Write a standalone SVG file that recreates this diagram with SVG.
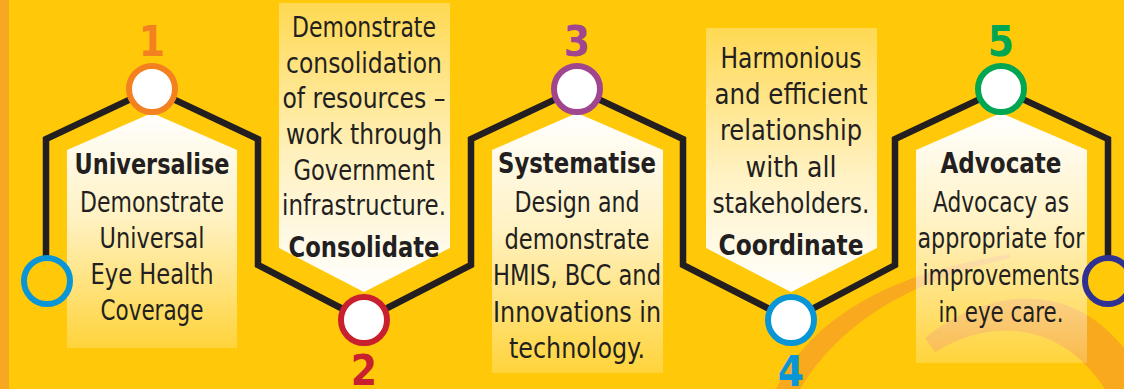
<svg xmlns="http://www.w3.org/2000/svg" width="1124" height="389" viewBox="0 0 1124 389">
<style>
.t{font-family:"Liberation Sans Narrow","DejaVu Sans Condensed","Liberation Sans",sans-serif;font-size:28px;fill:#231F20;text-anchor:middle}
.b{font-weight:bold}
.num{font-family:"Liberation Sans Narrow","DejaVu Sans Condensed","Liberation Sans",sans-serif;font-size:42px;font-weight:bold;text-anchor:middle}
.node{fill:#FFFFFF;stroke-width:6}
.end{fill:#FFC90A;stroke-width:6}
.line{fill:none;stroke:#231F20;stroke-width:6.5;stroke-linejoin:miter}
</style>
<defs>
<linearGradient id="gUp" x1="0" y1="0" x2="0" y2="1">
<stop offset="0" stop-color="#FFFFFF" stop-opacity="1"/>
<stop offset="0.45" stop-color="#FFFFFF" stop-opacity="0.75"/>
<stop offset="1" stop-color="#FFFFFF" stop-opacity="0.2"/>
</linearGradient>
<linearGradient id="gDown" x1="0" y1="0" x2="0" y2="1">
<stop offset="0" stop-color="#FFFFFF" stop-opacity="0.3"/>
<stop offset="0.55" stop-color="#FFFFFF" stop-opacity="0.75"/>
<stop offset="1" stop-color="#FFFFFF" stop-opacity="1"/>
</linearGradient>
</defs>
<rect x="0" y="0" width="1124" height="389" fill="#FFC90A"/>
<rect x="0" y="0" width="9" height="389" fill="#F7A823"/>
<g id="decor" fill="#F8A91E">
<path d="M776,389 Q830,282 1010,254 L1010,258 Q858,292 800,389 Z"/>
<path d="M925,338 C970,300 1060,268 1124,348 L1124,389 L1105,389 C1060,320 990,318 935,352 Z"/>
</g>
<g id="panels">
<path d="M67,150 L152,113 L237,150 L237,348 L67,348 Z" fill="url(#gUp)"/>
<path d="M279,3 L450,3 L450,248 L364,292 L279,248 Z" fill="url(#gDown)"/>
<path d="M492,150 L577,113 L663,150 L663,373 L492,373 Z" fill="url(#gUp)"/>
<path d="M706,28 L877,28 L877,248 L791,292 L706,248 Z" fill="url(#gDown)"/>
<path d="M916,150 L1001,113 L1087,150 L1087,363 L916,363 Z" fill="url(#gUp)"/>
</g>
<g id="connectors">
<path class="line" d="M46,281 L46,139 L152,89 L258,139 L258,265 L364,320 L471,265 L471,139 L577,89 L683,139 L683,265 L791,320 L895,265 L895,139 L1001,89 L1108,139 L1108,281"/>
</g>
<g id="start"><circle class="end" cx="47" cy="281" r="23" stroke="#0A96D6"/></g>
<g id="finish"><circle class="end" cx="1108" cy="281" r="23" stroke="#2E3192"/></g>
<g id="node1">
<circle class="node" cx="152" cy="89" r="23" stroke="#F48120"/>
<text class="num" x="152" y="56" fill="#F48120">1</text>
<text class="t b" x="152" y="174" textLength="155" lengthAdjust="spacingAndGlyphs">Universalise</text>
<text class="t" x="152" y="212" textLength="144" lengthAdjust="spacingAndGlyphs">Demonstrate</text>
<text class="t" x="152" y="248" textLength="105" lengthAdjust="spacingAndGlyphs">Universal</text>
<text class="t" x="152" y="284" textLength="123" lengthAdjust="spacingAndGlyphs">Eye Health</text>
<text class="t" x="152" y="320" textLength="103" lengthAdjust="spacingAndGlyphs">Coverage</text>
</g>
<g id="node2">
<circle class="node" cx="364" cy="320" r="23" stroke="#C8202F"/>
<text class="num" x="364" y="385" fill="#C8202F">2</text>
<text class="t" x="364" y="37" textLength="144" lengthAdjust="spacingAndGlyphs">Demonstrate</text>
<text class="t" x="364" y="73" textLength="156" lengthAdjust="spacingAndGlyphs">consolidation</text>
<text class="t" x="364" y="108" textLength="163" lengthAdjust="spacingAndGlyphs">of resources –</text>
<text class="t" x="364" y="144" textLength="156" lengthAdjust="spacingAndGlyphs">work through</text>
<text class="t" x="364" y="180" textLength="141" lengthAdjust="spacingAndGlyphs">Government</text>
<text class="t" x="364" y="215" textLength="164" lengthAdjust="spacingAndGlyphs">infrastructure.</text>
<text class="t b" x="364" y="257" textLength="151" lengthAdjust="spacingAndGlyphs">Consolidate</text>
</g>
<g id="node3">
<circle class="node" cx="577" cy="89" r="23" stroke="#A0468E"/>
<text class="num" x="577" y="56" fill="#A0468E">3</text>
<text class="t b" x="577" y="173" textLength="158" lengthAdjust="spacingAndGlyphs">Systematise</text>
<text class="t" x="577" y="212" textLength="125" lengthAdjust="spacingAndGlyphs">Design and</text>
<text class="t" x="577" y="249" textLength="145" lengthAdjust="spacingAndGlyphs">demonstrate</text>
<text class="t" x="577" y="285" textLength="168" lengthAdjust="spacingAndGlyphs">HMIS, BCC and</text>
<text class="t" x="577" y="322" textLength="168" lengthAdjust="spacingAndGlyphs">Innovations in</text>
<text class="t" x="577" y="358" textLength="136" lengthAdjust="spacingAndGlyphs">technology.</text>
</g>
<g id="node4">
<circle class="node" cx="791" cy="320" r="23" stroke="#0A96D6"/>
<text class="num" x="791" y="386" fill="#0A96D6">4</text>
<text class="t" x="791" y="68" textLength="141" lengthAdjust="spacingAndGlyphs">Harmonious</text>
<text class="t" x="791" y="104" textLength="153" lengthAdjust="spacingAndGlyphs">and efficient</text>
<text class="t" x="791" y="140" textLength="142" lengthAdjust="spacingAndGlyphs">relationship</text>
<text class="t" x="791" y="177" textLength="91" lengthAdjust="spacingAndGlyphs">with all</text>
<text class="t" x="791" y="213" textLength="157" lengthAdjust="spacingAndGlyphs">stakeholders.</text>
<text class="t b" x="791" y="255" textLength="145" lengthAdjust="spacingAndGlyphs">Coordinate</text>
</g>
<g id="node5">
<circle class="node" cx="1001" cy="89" r="23" stroke="#00A651"/>
<text class="num" x="1001" y="56" fill="#00A651">5</text>
<text class="t b" x="1001" y="173" textLength="121" lengthAdjust="spacingAndGlyphs">Advocate</text>
<text class="t" x="1001" y="212" textLength="136" lengthAdjust="spacingAndGlyphs">Advocacy as</text>
<text class="t" x="1001" y="248" textLength="167" lengthAdjust="spacingAndGlyphs">appropriate for</text>
<text class="t" x="1001" y="285" textLength="157" lengthAdjust="spacingAndGlyphs">improvements</text>
<text class="t" x="1001" y="322" textLength="125" lengthAdjust="spacingAndGlyphs">in eye care.</text>
</g>
</svg>
